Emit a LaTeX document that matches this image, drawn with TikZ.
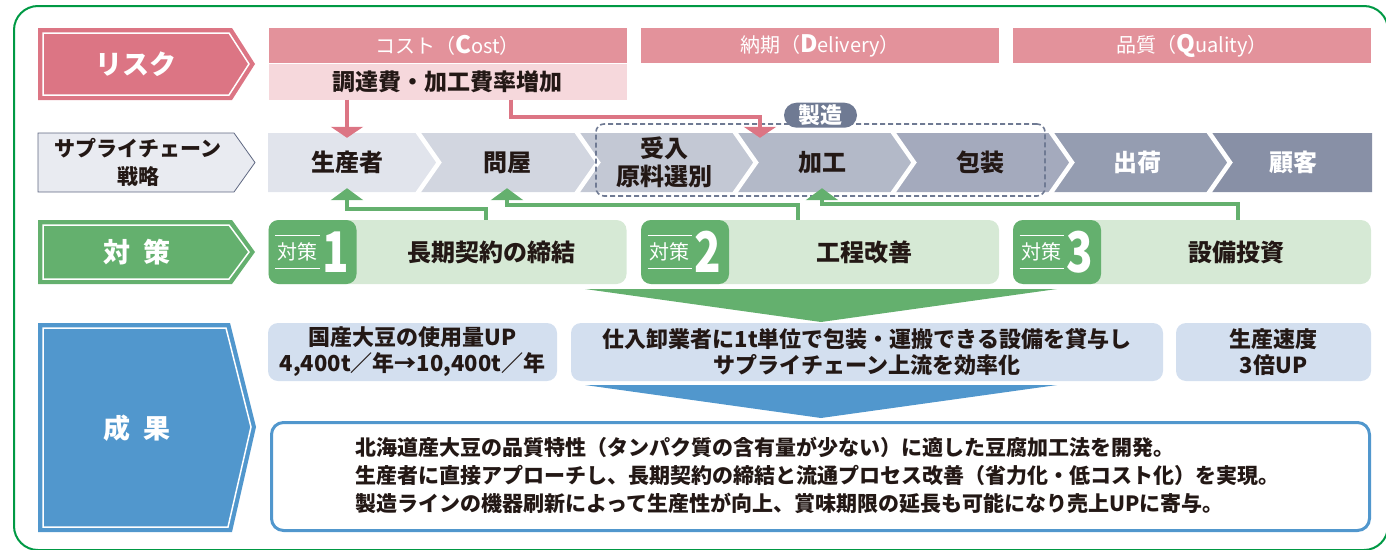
\documentclass[tikz,border=0pt]{standalone}
\usepackage{fontspec}
\setmainfont{Noto Sans CJK JP}
\usepackage{graphicx}
\usetikzlibrary{arrows.meta}
\definecolor{ink}{HTML}{231815}
\definecolor{riskred}{HTML}{DC7584}
\definecolor{hdrpink}{HTML}{E3929B}
\definecolor{subpink}{HTML}{F6D8DC}
\definecolor{gmid}{HTML}{64B06E}
\definecolor{glight}{HTML}{D6E9D5}
\definecolor{bmid}{HTML}{5197CD}
\definecolor{blight}{HTML}{D3DFEF}
\definecolor{framegreen}{HTML}{009944}
\definecolor{scfill}{HTML}{E9EBF1}
\definecolor{scline}{HTML}{5F6882}
\definecolor{seizocol}{HTML}{6F7A93}
\definecolor{cA}{HTML}{E1E4EC}
\definecolor{cB}{HTML}{D2D6E0}
\definecolor{cC}{HTML}{C3C8D4}
\definecolor{cD}{HTML}{B3B9C8}
\definecolor{cE}{HTML}{A4AABD}
\definecolor{cF}{HTML}{959DB1}
\definecolor{cG}{HTML}{8890A6}
\newcommand\fsz[2]{\fontsize{#1}{#2}\selectfont}
\begin{document}
\begin{tikzpicture}[x=1pt,y=-1pt,
  lbltxt/.style={inner sep=0pt, text=white, font=\fsz{27}{30}\bfseries},
  hdr/.style={fill=hdrpink, minimum width=358pt, minimum height=35pt, inner sep=0pt, text=white, font=\fsz{20}{24}},
  chaintxt/.style={minimum width=100pt, minimum height=59pt, inner sep=0pt, text=ink, align=center, font=\fsz{24}{28}\bfseries},
  pinkarr/.style={draw=riskred, line width=4pt, -{Triangle[width=32pt,length=11pt]}},
  greenarr/.style={draw=gmid, line width=4pt, -{Triangle[width=32pt,length=12pt]}},
  taisakubox/.style={fill=glight, rounded corners=10pt, minimum width=358pt, minimum height=64pt, inner sep=0pt,
    path picture={\fill[gmid] (path picture bounding box.south west) rectangle ([xshift=88pt]path picture bounding box.north west);}},
  ktxt/.style={inner sep=0pt, minimum width=44pt, minimum height=32pt, text=white, font=\fsz{20}{22}},
  numtxt/.style={inner sep=0pt, text=white, font=\fsz{56}{56}\bfseries},
  mtxt/.style={inner sep=0pt, text=ink, font=\fsz{24}{28}\bfseries},
  resbox/.style={fill=blight, rounded corners=10pt, minimum height=58pt, inner sep=0pt, align=center, text=ink, font=\fsz{22}{26}\bfseries},
  kline/.style={draw=white, line width=0.8pt}
]
\useasboundingbox (0,0) rectangle (1386,549);
% outer frame
\draw[framegreen, line width=2pt, rounded corners=24pt] (14,6) rectangle (1388,550);

% ---- label arrows ----
\fill[riskred] (38,28) -- (232,28) -- (255,64) -- (232,100) -- (38,100) -- cycle;
\draw[white, line width=1.5pt] (43,33) -- (229,33) -- (249,64) -- (229,95) -- (43,95) -- cycle;
\node[lbltxt] (risk) at (136,64) {リスク};

\filldraw[fill=scfill, draw=scline, line width=0.8pt] (38,133) -- (234,133) -- (255,162.5) -- (234,192) -- (38,192) -- cycle;
\node[inner sep=0pt, text=ink, align=center, font=\fsz{21}{28}\bfseries] (sc) at (138,162.5) {サプライチェーン\\戦略};

\fill[gmid] (38,220) -- (232,220) -- (255,252) -- (232,284) -- (38,284) -- cycle;
\draw[white, line width=1.5pt] (43,225) -- (229,225) -- (249,252) -- (229,279) -- (43,279) -- cycle;
\node[lbltxt] (tai) at (137,252) {対\hspace{14pt}策};

\fill[bmid] (38,323) -- (230,323) -- (256,427) -- (232,532) -- (38,532) -- cycle;
\draw[white, line width=1.5pt] (43,328) -- (226,328) -- (251,427) -- (228,527) -- (43,527) -- cycle;
\node[lbltxt] (seika) at (137,428) {成\hspace{14pt}果};

% ---- headers ----
\node[hdr] (hcost) at (447.5,45.5) {コスト（{\bfseries\fsz{24}{24}C}ost）};
\node[hdr] (hdel) at (820,45.5) {納期（{\bfseries\fsz{24}{24}D}elivery）};
\node[hdr] (hqual) at (1192,45.5) {品質（{\bfseries\fsz{24}{24}Q}uality）};
\node[fill=subpink, minimum width=358pt, minimum height=36pt, inner sep=0pt, text=ink, font=\fsz{23}{27}\bfseries] (costsub) at (447.5,81.5) {調達費・加工費率増加};

% ---- supply chain ----
\fill[cA] (268,133) -- (417,133) -- (439,162.5) -- (417,192) -- (268,192) -- cycle;
\fill[cB] (417,133) -- (576,133) -- (598,162.5) -- (576,192) -- (417,192) -- (439,162.5) -- cycle;
\fill[cC] (576,133) -- (734,133) -- (756,162.5) -- (734,192) -- (576,192) -- (598,162.5) -- cycle;
\fill[cD] (734,133) -- (892,133) -- (914,162.5) -- (892,192) -- (734,192) -- (756,162.5) -- cycle;
\fill[cE] (892,133) -- (1050,133) -- (1072,162.5) -- (1050,192) -- (892,192) -- (914,162.5) -- cycle;
\fill[cF] (1050,133) -- (1208,133) -- (1230,162.5) -- (1208,192) -- (1050,192) -- (1072,162.5) -- cycle;
\fill[cG] (1208,133) -- (1372,133) -- (1372,192) -- (1208,192) -- (1230,162.5) -- cycle;
\foreach \b in {417,576,734,892,1050,1208}{
  \draw[white, line width=4.5pt] (\b,131) -- (\b+22,162.5) -- (\b,194);
}
\node[chaintxt] (p1) at (347,162.5) {生産者};
\node[chaintxt] (p2) at (507,162.5) {問屋};
\node[chaintxt] (p3) at (664,162.5) {受入\\原料選別};
\node[chaintxt] (p4) at (822,162.5) {加工};
\node[chaintxt] (p5) at (980,162.5) {包装};
\node[chaintxt, text=white] (p6) at (1137,162.5) {出荷};
\node[chaintxt, text=white] (p7) at (1293,162.5) {顧客};

% dashed manufacturing group
\node[draw=seizocol, line width=1.6pt, dash pattern=on 5pt off 3pt, rounded corners=8pt, minimum width=449pt, minimum height=72pt, inner sep=0pt] (seizo) at (820.5,160) {};
\node[fill=seizocol, rounded corners=12.5pt, minimum width=73pt, minimum height=25pt, inner sep=0pt, text=white, font=\fsz{22}{24}\bfseries] (pill) at ([yshift=8pt]seizo.north) {製造};

% pink arrows
\draw[pinkarr] (costsub.south -| p1) -- ([yshift=-5pt]p1.north);
\draw[pinkarr] ([xshift=63.5pt]costsub.south) -- ++(0,17) -| ([xshift=-62pt,yshift=-5pt]p4.north);

% ---- measures ----
\node[taisakubox] (m1) at (447.5,252) {};
\node[taisakubox] (m2) at (820,252) {};
\node[taisakubox] (m3) at (1192,252) {};
\foreach \m/\n in {m1/1,m2/2,m3/3}{
  \node[ktxt] (k\n) at ([xshift=29pt]\m.west) {対策};
  \draw[kline] (k\n.north west) -- (k\n.north east);
  \draw[kline] (k\n.south west) -- (k\n.south east);
  \node[numtxt] (n\n) at ([xshift=67pt]\m.west) {\scalebox{0.78}[1]{\n}};
}
\node[mtxt] (mt1) at ([xshift=44pt]m1.center) {長期契約の締結};
\node[mtxt] (mt2) at ([xshift=44pt]m2.center) {工程改善};
\node[mtxt] (mt3) at ([xshift=44pt]m3.center) {設備投資};

% green arrows
\draw[greenarr] ([xshift=38.5pt]m1.north) -- ++(0,-11) -| ([yshift=4pt]p1.south);
\draw[greenarr] ([xshift=-22pt]m2.north) -- ++(0,-15) -| ([yshift=4pt]p2.south);
\draw[greenarr] ([xshift=46pt]m3.north) -- ++(0,-16) -| ([yshift=4pt]p4.south);

% funnels
\fill[gmid] (585,289) -- (1057,289) -- (821,322) -- cycle;
\fill[bmid] (585,385) -- (1057,385) -- (821,418) -- cycle;

% ---- results ----
\node[resbox, minimum width=289pt] (r1) at (412.5,352) {国産大豆の使用量UP\\4,400t／年→10,400t／年};
\node[resbox, minimum width=592pt] (r2) at (867,352) {仕入卸業者に1t単位で包装・運搬できる設備を貸与し\\サプライチェーン上流を効率化};
\node[resbox, minimum width=195pt] (r3) at (1273.5,352) {生産速度\\3倍UP};

\node[draw=bmid, line width=3pt, fill=white, rounded corners=12pt, minimum width=1098pt, minimum height=108pt, inner sep=0pt] (out) at (820.5,476.5) {};
\node[anchor=west, align=left, inner sep=0pt, text=ink, font=\fsz{21}{28}\bfseries] (outtxt) at (355,475) {北海道産大豆の品質特性（タンパク質の含有量が少ない）に適した豆腐加工法を開発。\\生産者に直接アプローチし、長期契約の締結と流通プロセス改善（省力化・低コスト化）を実現。\\製造ラインの機器刷新によって生産性が向上、賞味期限の延長も可能になり売上UPに寄与。};
\end{tikzpicture}
\end{document}
